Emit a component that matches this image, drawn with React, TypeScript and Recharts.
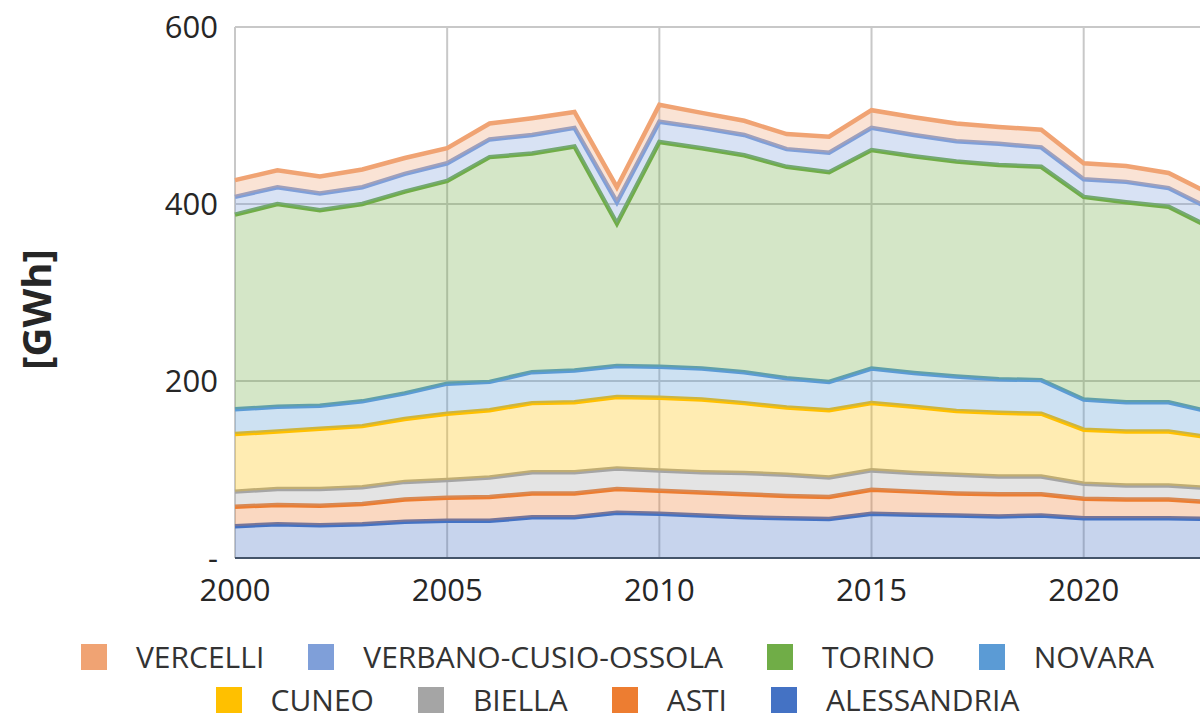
import { AreaChart, Area, XAxis, YAxis, CartesianGrid } from 'recharts';

// anni e valori per provincia (GWh)
const years = [
  2000, 2001, 2002, 2003, 2004, 2005, 2006, 2007, 2008, 2009, 2010, 2011,
  2012, 2013, 2014, 2015, 2016, 2017, 2018, 2019, 2020, 2021, 2022, 2023,
];

const alessandria = [36, 38, 37, 38, 41, 42, 42, 46, 46, 51, 50, 48, 46, 45, 44, 50, 49, 48, 47, 48, 45, 45, 45, 44];
const asti = [22, 22, 22, 23, 25, 26, 27, 27, 27, 27, 26, 26, 26, 25, 25, 27, 26, 25, 25, 24, 22, 21, 21, 19];
const biella = [17, 18, 19, 19, 20, 20, 22, 24, 24, 23, 23, 23, 24, 24, 22, 22, 21, 21, 20, 20, 17, 16, 16, 16];
const cuneo = [65, 65, 68, 69, 71, 75, 76, 78, 79, 81, 82, 82, 79, 76, 76, 76, 75, 72, 72, 71, 61, 61, 61, 57];
const novara = [28, 28, 26, 28, 29, 34, 32, 35, 36, 35, 35, 35, 35, 33, 32, 39, 38, 39, 38, 38, 34, 33, 33, 29];
const torino = [220, 229, 221, 223, 228, 229, 254, 247, 253, 161, 254, 249, 245, 239, 237, 247, 245, 243, 242, 241, 229, 226, 221, 208];
const vco = [20, 19, 19, 19, 20, 20, 20, 21, 21, 24, 23, 23, 23, 20, 22, 25, 24, 23, 24, 22, 20, 23, 21, 21];
const vercelli = [19, 19, 19, 20, 18, 17, 18, 19, 18, 17, 19, 17, 16, 17, 18, 20, 20, 20, 19, 20, 18, 18, 17, 17];

const xTicks = [2000, 2005, 2010, 2015, 2020];
const yTicks = [0, 200, 400, 600];

// ordine di impilamento: dal basso verso l'alto
const series = [
  { key: 'ALESSANDRIA', values: alessandria, color: '#4472C4' },
  { key: 'ASTI', values: asti, color: '#ED7D31' },
  { key: 'BIELLA', values: biella, color: '#A5A5A5' },
  { key: 'CUNEO', values: cuneo, color: '#FFC000' },
  { key: 'NOVARA', values: novara, color: '#5B9BD5' },
  { key: 'TORINO', values: torino, color: '#70AD47' },
  { key: 'VERBANO-CUSIO-OSSOLA', values: vco, color: '#7F9FD9' },
  { key: 'VERCELLI', values: vercelli, color: '#F0A373' },
];

const data = years.map((year, i) => {
  const row: Record<string, number> = { year };
  series.forEach((s) => {
    row[s.key] = s.values[i];
  });
  return row;
});

const font = '"Open Sans", sans-serif';

function LegendRow({ items }: { items: typeof series }) {
  return (
    <div style={{ display: 'flex', justifyContent: 'center', alignItems: 'center', height: 43 }}>
      {items.map((s, i) => (
        <div key={s.key} style={{ display: 'flex', alignItems: 'center', marginLeft: i === 0 ? 0 : 44 }}>
          <span style={{ width: 26, height: 26, background: s.color, display: 'inline-block', marginRight: 29 }} />
          <span style={{ fontSize: 30, lineHeight: '28px', color: '#333', fontFamily: font }}>{s.key}</span>
        </div>
      ))}
    </div>
  );
}

export default function App() {
  const legendItems = [...series].reverse();
  return (
    <div style={{ position: 'fixed', left: 0, top: 0, width: 1200, height: 715, overflow: 'hidden', background: '#fff' }}>
      <AreaChart width={1235} height={715} data={data} margin={{ top: 27, right: 24, bottom: 0, left: 0 }}>
        <CartesianGrid stroke="#c8c8c8" strokeWidth={2} />
        <XAxis
          dataKey="year"
          type="number"
          domain={[2000, 2023]}
          ticks={xTicks}
          height={157}
          tickSize={0}
          tickMargin={21}
          axisLine={{ stroke: '#44546A', strokeWidth: 2 }}
          tick={{ fill: '#262626', fontSize: 31, fontFamily: font }}
        />
        <YAxis
          domain={[0, 600]}
          ticks={yTicks}
          width={235}
          tickSize={0}
          tickMargin={17}
          axisLine={false}
          tickFormatter={(v: number) => (v === 0 ? '-' : String(v))}
          tick={{ fill: '#262626', fontSize: 31, fontFamily: font }}
          label={{
            content: ({ viewBox }: any) => {
              const cx = viewBox.x + 35;
              const cy = viewBox.y + viewBox.height / 2 + 17;
              return (
                <text
                  x={cx}
                  y={cy}
                  transform={`rotate(-90 ${cx} ${cy})`}
                  textAnchor="middle"
                  dominantBaseline="central"
                  fontSize={40}
                  fontWeight="bold"
                  fontFamily={font}
                  fill="#262626"
                >
                  [GWh]
                </text>
              );
            },
          }}
        />
        {series.map((s) => (
          <Area
            key={s.key}
            dataKey={s.key}
            stackId="1"
            type="linear"
            stroke={s.color}
            strokeWidth={4.5}
            fill={s.color}
            fillOpacity={0.3}
            isAnimationActive={false}
          />
        ))}
      </AreaChart>
      <div style={{ position: 'absolute', left: 0, top: 635, width: 1235 }}>
        <LegendRow items={legendItems.slice(0, 4)} />
        <LegendRow items={legendItems.slice(4)} />
      </div>
    </div>
  );
}
